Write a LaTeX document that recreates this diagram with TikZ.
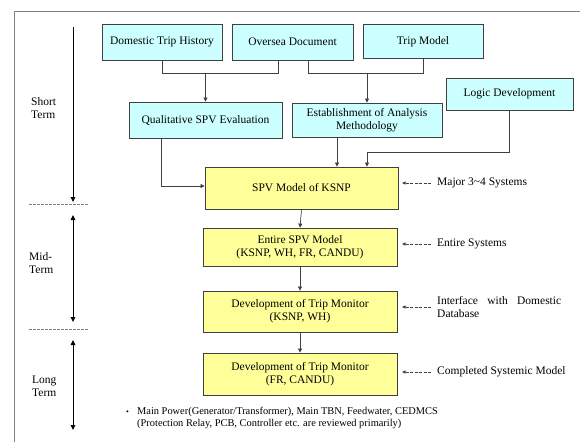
\documentclass[tikz,border=0pt]{standalone}
\usepackage{fontspec}
\setmainfont{Liberation Serif}
\usetikzlibrary{arrows.meta,calc}
\definecolor{cyanfill}{HTML}{CCFFFF}
\definecolor{yelfill}{HTML}{FFFF99}
\definecolor{edge}{HTML}{404040}
\tikzset{
  x=1pt,y=-1pt,
  box/.style={draw=edge,line width=0.8pt,inner sep=1pt,align=center,font=\fontsize{11.5}{13}\selectfont},
  cbox/.style={box,fill=cyanfill},
  ybox/.style={box,fill=yelfill},
  conn/.style={draw=edge,line width=0.7pt},
  arr/.style={conn,-{Triangle[length=4pt,width=4pt]}},
  note/.style={anchor=west,inner sep=0pt,align=left,font=\fontsize{11.5}{13}\selectfont},
  notearr/.style={draw=edge,line width=0.6pt,dash pattern=on 3pt off 1.5pt,-{Triangle[length=3.5pt,width=3pt]}},
  term/.style={anchor=west,inner sep=0pt,align=left,font=\fontsize{11.5}{13}\selectfont},
  span/.style={line width=0.9pt,{Triangle[length=5pt,width=4.5pt]}-{Triangle[length=5pt,width=4.5pt]}},
  spandown/.style={line width=0.9pt,-{Triangle[length=5pt,width=4.5pt]}},
  divider/.style={draw=gray,line width=0.6pt,dash pattern=on 2.5pt off 1.5pt},
}
\begin{document}
\begin{tikzpicture}
\useasboundingbox (0,0) rectangle (580,442);
% frame
\draw[gray,line width=1pt] (14,442) -- (14,11) -- (580,11);

% top boxes
\node[cbox,minimum width=120,minimum height=36] (dth) at (162,42) {Domestic Trip History};
\node[cbox,minimum width=121,minimum height=36] (ovs) at (292.5,42) {Oversea Document};
\node[cbox,minimum width=120,minimum height=34] (tm) at (423,41.5) {Trip Model};
\node[cbox,minimum width=153,minimum height=36] (qual) at (205.5,120) {Qualitative SPV Evaluation};
\node[cbox,minimum width=150,minimum height=34] (est) at (367,120) {Establishment of Analysis\\Methodology};
\node[cbox,minimum width=127,minimum height=32] (logic) at (509.5,94) {Logic Development};

% yellow boxes
\node[ybox,minimum width=193,minimum height=42] (spv) at (301.5,188) {SPV Model of KSNP};
\node[ybox,minimum width=194,minimum height=38] (ent) at (300,247) {Entire SPV Model\\(KSNP, WH, FR, CANDU)};
\node[ybox,minimum width=194,minimum height=41] (dev1) at (300,311.5) {Development of Trip Monitor\\(KSNP, WH)};
\node[ybox,minimum width=194,minimum height=42] (dev2) at (300,374) {Development of Trip Monitor\\(FR, CANDU)};

% connectors top
\coordinate (b1) at (278,73);
\coordinate (b2) at (308,73);
\draw[conn] (dth.south) |- (b1) -- (b1 |- ovs.south);
\draw[arr] (qual.north |- b1) -- (qual.north);
\draw[conn] (b2 |- ovs.south) -- (b2) -| (tm.south);
\draw[arr] (est.north |- b2) -- (est.north);

\coordinate (q1) at (161,186);
\draw[arr] (q1 |- qual.south) -- (q1) -- (spv.west |- q1);
\coordinate (e1) at (337,0);
\draw[arr] (e1 |- est.south) -- (e1 |- spv.north);
\coordinate (l1) at (367,152);
\draw[arr] (logic.south) |- (l1) -- (l1 |- spv.north);

\draw[arr] (spv.south) -- (ent.north);
\draw[arr] (ent.south) -- (dev1.north);
\draw[arr] (dev1.south) -- (dev2.north);

% side notes
\coordinate (tipx) at (402,0);
\node[note] (n1) at (437,183) {Major 3\textasciitilde4 Systems};
\draw[notearr] ($(n1.west)+(-6,0)$) -- (tipx |- n1.west);
\node[note] (n2) at (437,244) {Entire Systems};
\draw[notearr] ($(n2.west)+(-6,0)$) -- (tipx |- n2.west);
\node[note] (n3) at (437,307) {\makebox[124pt][s]{Interface with Domestic}\\Database};
\draw[notearr] ($(n3.west)+(-6,0)$) -- (tipx |- n3.west);
\node[note] (n4) at (437,372) {Completed Systemic Model};
\draw[notearr] ($(n4.west)+(-6,0)$) -- (tipx |- n4.west);

% left term arrows
\coordinate (s1) at (73,27);
\coordinate (s2) at (73,202);
\draw[spandown] (s1) -- (s2);
\coordinate (d1a) at (29,204);
\coordinate (d1b) at (88,204);
\draw[divider] (d1a) -- (d1b);
\node[term] (tshort) at (31,108) {Short\\Term};

\coordinate (m1) at (73,215);
\coordinate (m2) at (73,322);
\draw[span] (m1) -- (m2);
\coordinate (d2a) at (29,329);
\coordinate (d2b) at (88,329);
\draw[divider] (d2a) -- (d2b);
\node[term] (tmid) at (29,263) {Mid-\\Term};

\coordinate (g1) at (73,340);
\coordinate (g2) at (73,430);
\draw[span] (g1) -- (g2);
\node[term] (tlong) at (32,386) {Long\\Term};

% footnote
\node[anchor=north west,inner sep=0pt,align=left,font=\fontsize{10.4}{12}\selectfont] (foot) at (126,407)
  {\makebox[11pt][l]{\footnotesize\textbullet}Main Power(Generator/Transformer), Main TBN, Feedwater, CEDMCS\\
   \hspace*{11pt}(Protection Relay, PCB, Controller etc. are reviewed primarily)};
\end{tikzpicture}
\end{document}
